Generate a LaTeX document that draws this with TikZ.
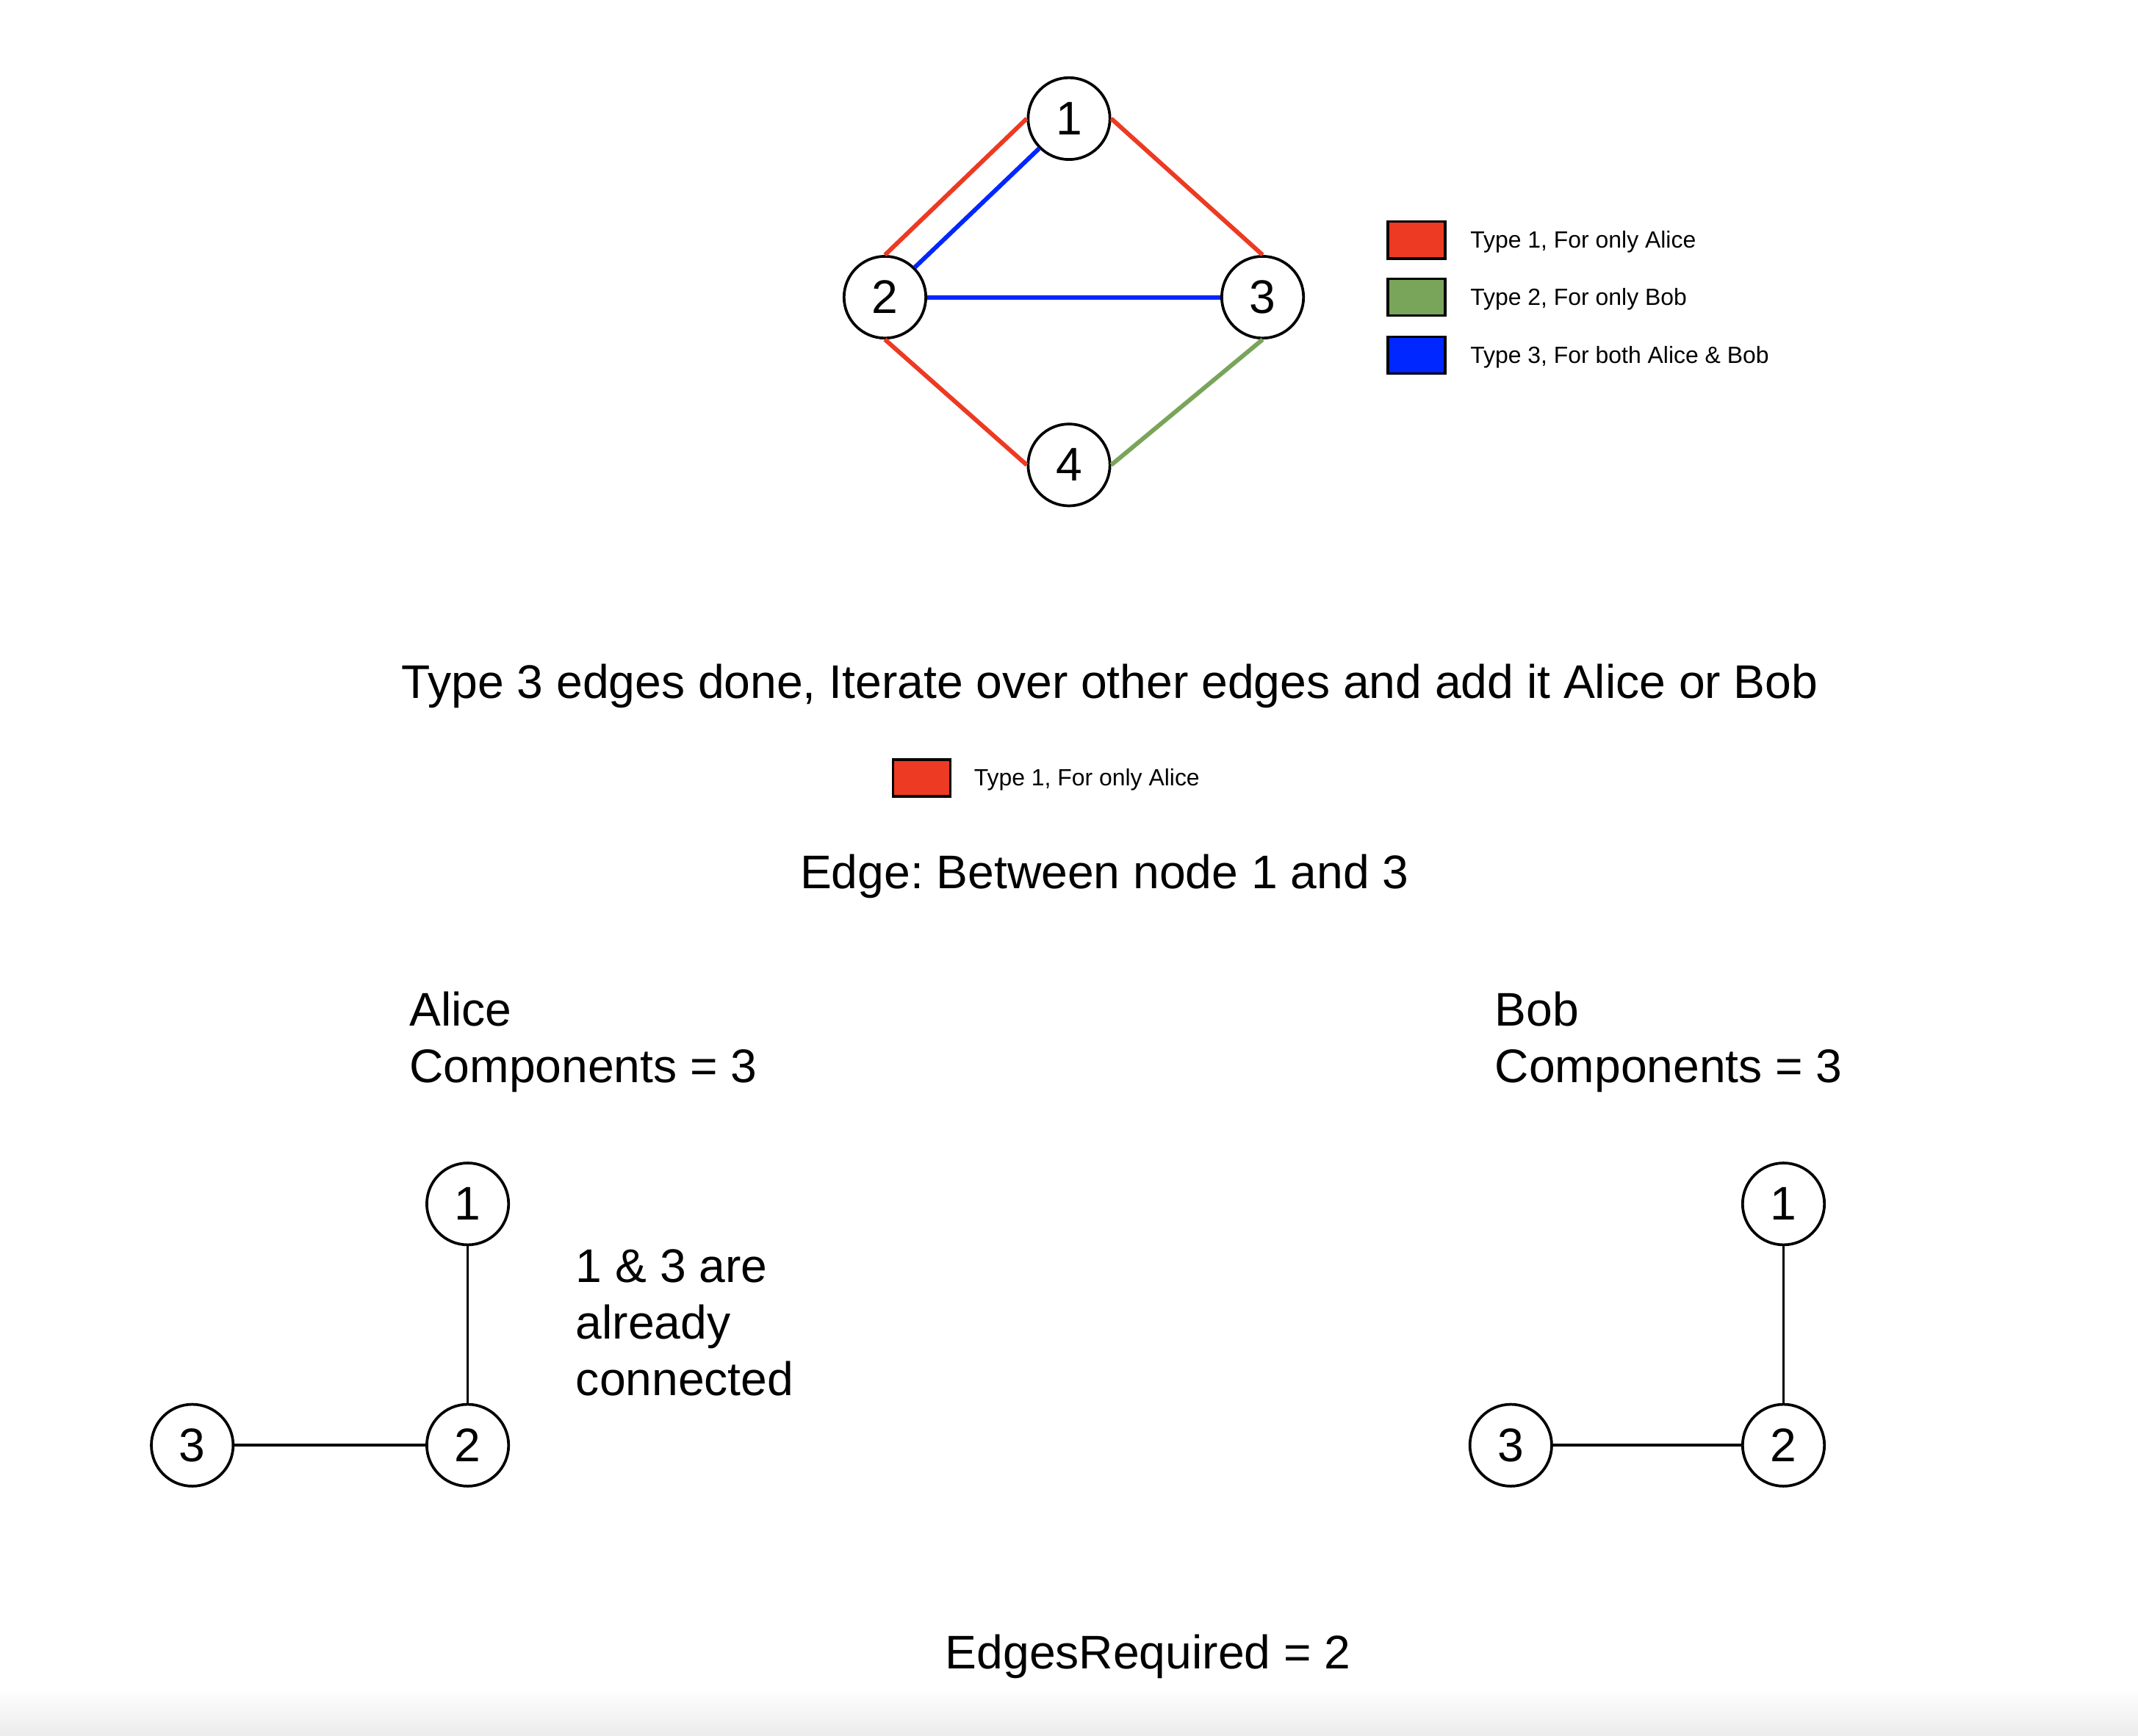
\documentclass[tikz,border=0pt]{standalone}
\usepackage{fontspec}
\setmainfont{Liberation Sans}
\usepackage{xcolor}
\usepackage{tikz}
\usetikzlibrary{calc}
\definecolor{alicered}{RGB}{237,58,34}
\definecolor{bobgreen}{RGB}{121,165,90}
\definecolor{bothblue}{RGB}{0,39,255}
\frenchspacing

\tikzset{
  vertex/.style={circle, draw=black, line width=1pt, minimum size=30pt, inner sep=0pt, fill=white, font=\fontsize{17.3}{20.7}\selectfont},
  aliceedge/.style={alicered, line width=1.6pt},
  bobedge/.style={bobgreen, line width=1.6pt},
  bothedge/.style={bothblue, line width=1.6pt},
  plainedge/.style={black, line width=1pt},
  swatch/.style={draw=black, line width=1pt, minimum width=21pt, minimum height=13.5pt, inner sep=0pt},
  legendtext/.style={anchor=west, inner sep=0pt, font=\fontsize{8.6}{10}\selectfont},
  bigtext/.style={inner sep=0pt, font=\fontsize{17.3}{20.7}\selectfont},
}

\begin{document}
\begin{tikzpicture}[x=0.5pt, y=-0.5pt]
        %RAMKA
        \useasboundingbox (0,0) rectangle (1568,1273);
        \shade[top color=white, bottom color=gray!15] (0,1238) rectangle (1568,1273);
        %GRAF ATAS
        \node[vertex] (t1) at (784,87) {1};
        \node[vertex] (t2) at (649,218) {2};
        \node[vertex] (t3) at (926,218) {3};
        \node[vertex] (t4) at (784,341) {4};
        \draw[aliceedge] (t1.west) -- (t2.north);
        \draw[bothedge] (t1.south west) -- (t2.north east);
        \draw[aliceedge] (t1.east) -- (t3.north);
        \draw[bothedge] (t2.east) -- (t3.west);
        \draw[aliceedge] (t2.south) -- (t4.west);
        \draw[bobedge] (t3.south) -- (t4.east);
        %LEGENDA
        \node[swatch, fill=alicered] (s1) at (1039,176) {};
        \node[swatch, fill=bobgreen] (s2) at (1039,218) {};
        \node[swatch, fill=bothblue] (s3) at (1039,260.5) {};
        \node[legendtext] (l1) at (1078,177.5) {Type 1, For only Alice};
        \node[legendtext] (l2) at (1078,219.5) {Type 2, For only Bob};
        \node[legendtext] (l3) at (1078,262) {Type 3, For both Alice \& Bob};
        %TEKS
        \node[bigtext] (title) at (814,503) {Type 3 edges done, Iterate over other edges and add it Alice or Bob};
        \node[swatch, fill=alicered] (s4) at (676,570.5) {};
        \node[legendtext] (l4) at (714,572) {Type 1, For only Alice};
        \node[bigtext] (edge) at (810,643) {Edge: Between node 1 and 3};
        \node[bigtext, anchor=north west, align=left] (alice) at (300,727) {Alice\\Components = 3};
        \node[bigtext, anchor=north west, align=left] (bob) at (1096,727) {Bob\\Components = 3};
        \node[bigtext, anchor=north west, align=left] (note) at (422,916) {1 \& 3 are\\already\\connected};
        \node[bigtext] (req) at (842,1215) {EdgesRequired = 2};
        %GRAF ALICE
        \node[vertex] (a1) at (343,883) {1};
        \node[vertex] (a2) at (343,1060) {2};
        \node[vertex] (a3) at (141,1060) {3};
        \draw[plainedge] (a1) -- (a2);
        \draw[plainedge] (a3) -- (a2);
        %GRAF BOB
        \node[vertex] (b1) at (1308,883) {1};
        \node[vertex] (b2) at (1308,1060) {2};
        \node[vertex] (b3) at (1108,1060) {3};
        \draw[plainedge] (b1) -- (b2);
        \draw[plainedge] (b3) -- (b2);
    \end{tikzpicture}
\end{document}
